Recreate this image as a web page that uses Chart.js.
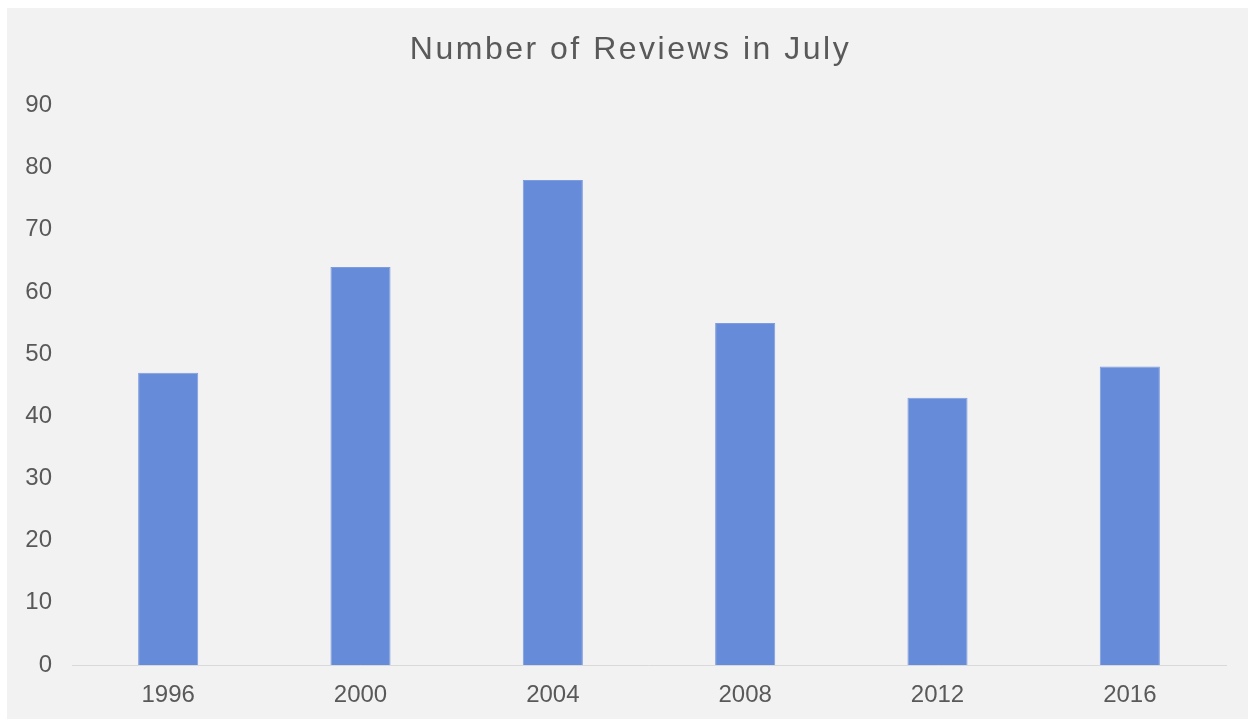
<!DOCTYPE html>
<html>
<head>
<meta charset="utf-8">
<script src="https://cdn.jsdelivr.net/npm/chart.js@4"></script>
<style>
  html, body { margin: 0; padding: 0; background: #ffffff; }
  #wrap { position: absolute; left: 7px; top: 8px; width: 1241px; height: 711px; background: #f2f2f2; }
  canvas { display: block; }
</style>
</head>
<body>
<div id="wrap"><canvas id="c"></canvas></div>
<script>
const categories = ["1996", "2000", "2004", "2008", "2012", "2016"];
const reviews = [47, 64, 78, 55, 43, 48];
const yTicks = [0, 10, 20, 30, 40, 50, 60, 70, 80, 90];
const chartTitle = "Number of Reviews in July";

const FONT = 'Liberation Sans, Arial, sans-serif';

const chart = new Chart(document.getElementById('c'), {
  type: 'bar',
  data: {
    labels: categories,
    datasets: [{
      label: 'Reviews',
      data: reviews,
      backgroundColor: '#668bd8',
      borderColor: '#7d9de2',
      borderWidth: 1,
      barPercentage: 0.3125,
      categoryPercentage: 1.0
    }]
  },
  options: {
    responsive: true,
    maintainAspectRatio: false,
    animation: false,
    layout: { padding: { left: 0, right: 22, top: 0, bottom: 0 } },
    plugins: {
      legend: { display: false },
      tooltip: { enabled: false },
      title: {
        display: true,
        text: chartTitle,
        color: '#595959',
        font: { family: FONT, size: 32, weight: 'normal', lineHeight: 1.2 },
        padding: { top: 23, bottom: 36 }
      }
    },
    scales: {
      x: {
        grid: { display: false, drawTicks: false },
        border: { display: true, color: '#d9d9d9', width: 1 },
        ticks: {
          color: '#595959',
          font: { family: FONT, size: 24 },
          padding: 16
        },
        afterFit: (axis) => { axis.height = 54; }
      },
      y: {
        min: 0,
        max: 90,
        afterBuildTicks: (axis) => { axis.ticks = yTicks.map(v => ({ value: v })); },
        grid: { display: false, drawTicks: false },
        border: { display: false },
        ticks: {
          color: '#595959',
          font: { family: FONT, size: 24 },
          padding: 20
        },
        afterFit: (axis) => { axis.width = 65; }
      }
    }
  }
});

// Wider tracking for the title, as in the reference rendering
const origTitleDraw = chart.titleBlock.draw;
chart.titleBlock.draw = function () {
  const ctx = this.ctx;
  ctx.save();
  ctx.letterSpacing = '2.5px';
  ctx.translate(14, 0);
  origTitleDraw.call(this);
  ctx.restore();
};
chart.draw();
</script>
</body>
</html>
